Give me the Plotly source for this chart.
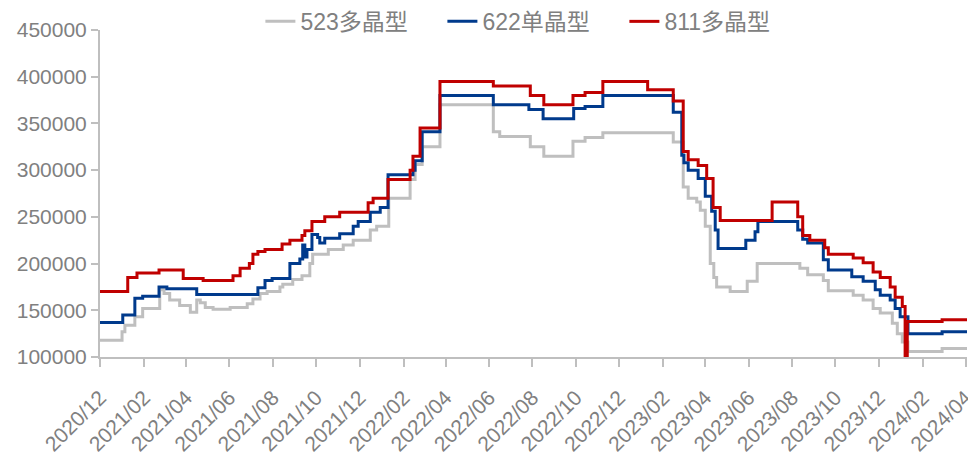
import plotly.graph_objects as go

# 523多晶型 (gray)
dates_523 = ["2020-12-01","2021-01-01","2021-01-05","2021-01-19","2021-01-30","2021-02-23","2021-03-01",
             "2021-03-09","2021-03-23","2021-04-07","2021-04-16","2021-04-21","2021-04-28","2021-05-09",
             "2021-06-02","2021-06-26","2021-07-04","2021-07-14","2021-07-24","2021-08-11","2021-08-15",
             "2021-08-29","2021-09-11","2021-09-22","2021-09-26","2021-10-18","2021-11-08","2021-11-22",
             "2021-12-16","2021-12-25","2022-01-11","2022-02-10","2022-02-17","2022-02-27","2022-03-24",
             "2022-06-07","2022-06-16","2022-07-29","2022-08-17","2022-09-27","2022-10-14","2022-11-08",
             "2023-02-15","2023-03-01","2023-03-08","2023-03-20","2023-03-25","2023-04-01","2023-04-08",
             "2023-04-13","2023-04-17","2023-05-06","2023-05-30","2023-06-13","2023-08-12","2023-08-23",
             "2023-09-14","2023-09-21","2023-10-26","2023-11-09","2023-11-23","2023-12-03","2023-12-20",
             "2023-12-27","2024-01-03","2024-01-11","2024-02-28","2024-04-05"]
vals_523 = [118000,127000,134000,143000,152000,172000,168000,
            161000,155000,148000,161000,158000,153000,151000,
            153000,157000,162000,168000,170000,175000,178000,
            183000,187000,200000,210000,215000,220000,225000,
            236000,240000,270000,290000,306000,325000,370000,
            341000,336000,325000,315000,331000,335000,340000,
            330000,282000,270000,266000,257000,240000,200000,
            185000,175000,170000,181000,200000,195000,188000,
            182000,171000,166000,161000,152000,147000,136000,
            125000,116000,106000,109000,109000]

# 622单晶型 (blue)
dates_622 = ["2020-12-01","2021-01-02","2021-01-19","2021-01-30","2021-02-22","2021-03-05","2021-04-16",
             "2021-07-11","2021-07-21","2021-07-31","2021-08-25","2021-09-08","2021-09-12","2021-09-15",
             "2021-09-18","2021-09-25","2021-10-03","2021-10-06","2021-10-13","2021-11-03","2021-11-22",
             "2021-11-29","2021-12-16","2021-12-30","2022-01-10","2022-02-14","2022-02-17","2022-02-27",
             "2022-03-24","2022-06-07","2022-07-27","2022-08-16","2022-09-28","2022-10-14","2022-11-08",
             "2023-02-15","2023-02-27","2023-03-02","2023-03-08","2023-03-22","2023-04-01","2023-04-10",
             "2023-04-15","2023-04-19","2023-05-28","2023-06-10","2023-06-14","2023-08-09","2023-08-16",
             "2023-08-23","2023-09-14","2023-09-21","2023-10-24","2023-11-09","2023-11-26","2023-12-03",
             "2023-12-17","2023-12-24","2023-12-31","2024-01-11","2024-02-28","2024-04-05"]
vals_622 = [137000,145000,163000,165000,175000,173000,167000,
            174000,182000,184000,200000,205000,220000,207000,
            215000,231000,228000,222000,227000,232000,240000,
            245000,255000,260000,295000,300000,310000,341000,
            380000,370000,365000,355000,366000,368000,380000,
            362000,316000,308000,300000,291000,272000,256000,
            236000,216000,225000,234000,245000,236000,226000,
            222000,204000,193000,186000,181000,172000,166000,
            161000,152000,143000,125000,127000,127000]

# 811多晶型 (red)
dates_811 = ["2020-12-01","2021-01-09","2021-01-22","2021-02-22","2021-03-28","2021-04-25","2021-06-06",
             "2021-06-16","2021-06-29","2021-07-04","2021-07-11","2021-07-21","2021-08-14","2021-08-25",
             "2021-09-11","2021-09-15","2021-09-25","2021-10-13","2021-11-03","2021-12-13","2021-12-20",
             "2022-01-10","2022-02-10","2022-02-14","2022-02-24","2022-03-24","2022-06-07","2022-07-29",
             "2022-08-17","2022-09-27","2022-10-14","2022-11-08","2023-01-10","2023-02-15","2023-03-01",
             "2023-03-08","2023-03-22","2023-04-03","2023-04-12","2023-04-22","2023-07-04","2023-08-09",
             "2023-08-16","2023-08-26","2023-09-16","2023-09-21","2023-10-26","2023-11-09","2023-11-23",
             "2023-12-03","2023-12-17","2023-12-24","2024-01-03","2024-01-07","2024-01-10","2024-02-28",
             "2024-04-05"]
vals_811 = [170000,185000,190000,193000,184000,182000,187000,
            195000,200000,210000,213000,215000,221000,225000,
            230000,235000,245000,250000,255000,265000,270000,
            290000,300000,315000,345000,395000,390000,380000,
            370000,380000,383000,395000,386000,374000,320000,
            311000,305000,291000,260000,246000,266000,250000,
            230000,225000,217000,210000,206000,201000,191000,
            185000,175000,164000,154000,100000,138000,140000,
            140000]

series = [
    ("523多晶型", dates_523, vals_523, "#BFBFBF"),
    ("622单晶型", dates_622, vals_622, "#003A8C"),
    ("811多晶型", dates_811, vals_811, "#C00000"),
]

fig = go.Figure()
for name, d, v, c in series:
    fig.add_trace(go.Scatter(x=d, y=v, name=name, mode="lines",
                             line=dict(color=c, width=3, shape="hv")))

font_family = "Liberation Sans, Noto Sans CJK SC, sans-serif"
fig.update_layout(
    width=968, height=455,
    margin=dict(l=100, r=1, t=30, b=98, autoexpand=False),
    paper_bgcolor="white", plot_bgcolor="white",
    font=dict(family=font_family, color="#808080"),
    showlegend=True,
    legend=dict(orientation="h", x=0.185, xanchor="left", y=1.092, yanchor="top",
                entrywidth=137, entrywidthmode="pixels",
                font=dict(size=23, color="#808080"), tracegroupgap=0,
                bgcolor="rgba(0,0,0,0)"),
    xaxis=dict(type="date", range=["2020-12-01", "2024-04-03"], automargin=False,
               dtick="M2", tick0="2020-12-01", tickformat="%Y/%m", tickangle=-45,
               ticklabeloverflow="allow", ticklabelstandoff=10,
               showline=True, linecolor="#BFBFBF", linewidth=2,
               ticks="outside", ticklen=8, tickcolor="#BFBFBF", tickwidth=1.5,
               showgrid=False, zeroline=False,
               tickfont=dict(size=21, color="#808080")),
    yaxis=dict(range=[100000, 450000], dtick=50000, tickformat="d", automargin=False,
               showline=True, linecolor="#BFBFBF", linewidth=2,
               ticks="outside", ticklen=7, tickcolor="#BFBFBF", tickwidth=1.5,
               showgrid=False, zeroline=False,
               tickfont=dict(size=21, color="#808080")),
)

fig.write_html("out.html", config={"displayModeBar": False},
               post_script="document.body.style.margin='0';document.body.style.overflow='hidden';")
